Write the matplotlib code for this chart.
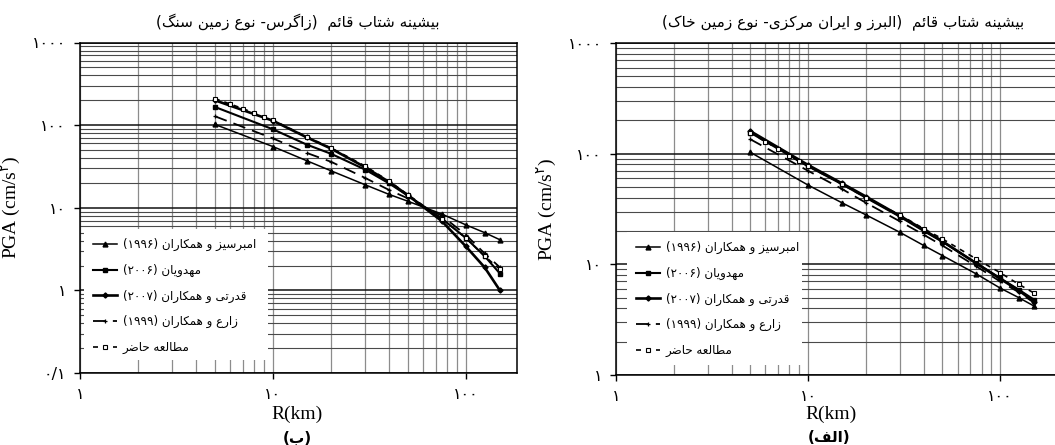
import re
import matplotlib
matplotlib.use('Agg')
import matplotlib.pyplot as plt
from matplotlib.ticker import LogLocator, NullFormatter
from matplotlib.lines import Line2D
from matplotlib.patches import Rectangle

plt.rcParams['font.family'] = ['Liberation Serif', 'DejaVu Sans']

# ---- data ----
dist = [5, 10, 15, 20, 30, 40, 50, 75, 100, 125, 150]
dist_pre = [5, 6, 7, 8, 9, 10, 15, 20, 30, 40, 50, 75, 100, 125, 150]

# (ب) Zagros - rock
amb_b = [102, 55, 37, 28, 19, 14.5, 12, 8.4, 6.2, 5.0, 4.1]
mah_b = [166, 89, 58, 45, 29, 19.7, 14, 7.4, 4.3, 2.6, 1.6]
gho_b = [200, 113, 71, 52, 31, 20.5, 14.2, 6.9, 3.4, 1.9, 1.0]
zar_b = [128, 69, 46, 36, 23, 16.4, 13, 8.0, 4.7, 2.8, 1.9]
pre_b = [210, 180, 158, 140, 126, 115, 72, 53, 32, 21, 14.4, 7.4, 4.3, 2.6, 1.8]

# (الف) Alborz & central Iran - soil
amb_a = [103, 52, 36, 28, 19.5, 14.8, 12, 8.2, 6.1, 5.0, 4.2]
mah_a = [155, 77, 53, 40, 27, 20, 16, 10.3, 7.5, 5.9, 4.8]
gho_a = [160, 79, 54, 41, 27.5, 20.5, 16.2, 10.2, 7.4, 5.8, 4.6]
zar_a = [135, 70, 48, 36, 24.5, 18.5, 14.8, 9.6, 7.0, 5.6, 4.5]
pre_a = [155, 128, 110, 96, 85, 77, 53, 40, 28, 21, 17, 11.2, 8.4, 6.6, 5.5]

labels = ['امبرسیز و همکاران (۱۹۹۶)', 'مهدویان (۲۰۰۶)', 'قدرتی و همکاران (۲۰۰۷)',
          'زارع و همکاران (۱۹۹۹)', 'مطالعه حاضر']
title_b = 'بیشینه شتاب قائم  (زاگرس- نوع زمین سنگ)'
title_a = 'بیشینه شتاب قائم  (البرز و ایران مرکزی- نوع زمین خاک)'
xtick_lab = ['۱', '۱۰', '۱۰۰']
ytick_b = ['۰/۱', '۱', '۱۰', '۱۰۰', '۱۰۰۰']
ytick_a = ['۱', '۱۰', '۱۰۰', '۱۰۰۰']

# ---- minimal persian shaping (no arabic_reshaper available) ----
FORMS = {
    'ا': (0xFE8D, 0xFE8E), 'آ': (0xFE81, 0xFE82), 'د': (0xFEA9, 0xFEAA),
    'ذ': (0xFEAB, 0xFEAC), 'ر': (0xFEAD, 0xFEAE), 'ز': (0xFEAF, 0xFEB0),
    'ژ': (0xFB8A, 0xFB8B), 'و': (0xFEED, 0xFEEE),
    'ب': (0xFE8F, 0xFE90, 0xFE91, 0xFE92), 'پ': (0xFB56, 0xFB57, 0xFB58, 0xFB59),
    'ت': (0xFE95, 0xFE96, 0xFE97, 0xFE98), 'ث': (0xFE99, 0xFE9A, 0xFE9B, 0xFE9C),
    'ج': (0xFE9D, 0xFE9E, 0xFE9F, 0xFEA0), 'چ': (0xFB7A, 0xFB7B, 0xFB7C, 0xFB7D),
    'ح': (0xFEA1, 0xFEA2, 0xFEA3, 0xFEA4), 'خ': (0xFEA5, 0xFEA6, 0xFEA7, 0xFEA8),
    'س': (0xFEB1, 0xFEB2, 0xFEB3, 0xFEB4), 'ش': (0xFEB5, 0xFEB6, 0xFEB7, 0xFEB8),
    'ص': (0xFEB9, 0xFEBA, 0xFEBB, 0xFEBC), 'ض': (0xFEBD, 0xFEBE, 0xFEBF, 0xFEC0),
    'ط': (0xFEC1, 0xFEC2, 0xFEC3, 0xFEC4), 'ظ': (0xFEC5, 0xFEC6, 0xFEC7, 0xFEC8),
    'ع': (0xFEC9, 0xFECA, 0xFECB, 0xFECC), 'غ': (0xFECD, 0xFECE, 0xFECF, 0xFED0),
    'ف': (0xFED1, 0xFED2, 0xFED3, 0xFED4), 'ق': (0xFED5, 0xFED6, 0xFED7, 0xFED8),
    'ک': (0xFB8E, 0xFB8F, 0xFB90, 0xFB91), 'گ': (0xFB92, 0xFB93, 0xFB94, 0xFB95),
    'ل': (0xFEDD, 0xFEDE, 0xFEDF, 0xFEE0), 'م': (0xFEE1, 0xFEE2, 0xFEE3, 0xFEE4),
    'ن': (0xFEE5, 0xFEE6, 0xFEE7, 0xFEE8), 'ه': (0xFEE9, 0xFEEA, 0xFEEB, 0xFEEC),
    'ی': (0xFBFC, 0xFBFD, 0xFBFE, 0xFBFF), 'ئ': (0xFE89, 0xFE8A, 0xFE8B, 0xFE8C),
}


def fa(s):
    out = []
    for i, ch in enumerate(s):
        if ch not in FORMS:
            out.append(ch)
            continue
        f = FORMS[ch]
        prev = s[i - 1] if i > 0 else ''
        nxt = s[i + 1] if i < len(s) - 1 else ''
        jp = prev in FORMS and len(FORMS[prev]) == 4
        jn = len(f) == 4 and nxt in FORMS
        if jp and jn:
            g = f[3]
        elif jp:
            g = f[1]
        elif jn:
            g = f[2]
        else:
            g = f[0]
        out.append(chr(g))
    vis = ''.join(out)[::-1].translate(str.maketrans('()', ')('))
    return re.sub('[۰-۹]+', lambda m: m.group(0)[::-1], vis)


PER = 'DejaVu Sans'
styles = [
    dict(color='k', lw=1.1, marker='^', ms=3.5),
    dict(color='k', lw=1.5, marker='s', ms=3),
    dict(color='k', lw=1.9, marker='D', ms=2.6),
    dict(color='k', lw=1.3, ls=(0, (7, 4)), marker='+', ms=3.5, mew=0.9),
    dict(color='k', lw=1.2, ls=(0, (3, 3)), marker='s', ms=3, mfc='white', mew=0.8),
]


def setup(ax, ymin, ymax, xmax, ylabs):
    ax.set_xscale('log')
    ax.set_yscale('log')
    ax.set_xlim(1, xmax)
    ax.set_ylim(ymin, ymax)
    ax.xaxis.set_minor_locator(LogLocator(base=10, subs=range(2, 10)))
    ax.yaxis.set_minor_locator(LogLocator(base=10, subs=range(2, 10)))
    ax.xaxis.set_minor_formatter(NullFormatter())
    ax.yaxis.set_minor_formatter(NullFormatter())
    ax.set_xticks([1, 10, 100])
    ax.set_xticklabels(xtick_lab, family=PER, fontsize=11.5)
    yt = [ymin * 10 ** i for i in range(len(ylabs))]
    ax.set_yticks(yt)
    ax.set_yticklabels(ylabs, family=PER, fontsize=11.5)
    ax.xaxis.grid(True, which='both', color='#8c8c8c', lw=0.9)
    ax.yaxis.grid(True, which='minor', color='#4a4a4a', lw=0.8)
    ax.yaxis.grid(True, which='major', color='#111111', lw=1.1)
    ax.tick_params(which='major', direction='out', length=4, width=1, pad=6)
    ax.tick_params(which='minor', length=0)
    for sp in ax.spines.values():
        sp.set_linewidth(1.1)
    ax.set_ylabel(r'PGA (cm/s$^{۲}$)', fontsize=14, labelpad=6)


def draw(ax, series, leg_box):
    for (xs, ys), st in zip(series, styles):
        ax.plot(xs, ys, zorder=3, **st)
    ax.add_patch(Rectangle(leg_box[:2], leg_box[2], leg_box[3], transform=ax.transAxes,
                           facecolor='white', edgecolor='none', zorder=2.5))
    handles = [Line2D([], [], **st) for st in styles]
    leg = ax.legend(handles, [fa(t) for t in labels], loc='upper left',
                    bbox_to_anchor=(leg_box[0], leg_box[1] + leg_box[3]),
                    frameon=False, handlelength=2.0, labelspacing=1.05,
                    handletextpad=0.5, borderaxespad=0.35,
                    prop=dict(family=PER, size=8.6))
    leg.set_zorder(5)


fig = plt.figure(figsize=(10.55, 4.45), dpi=100)
W, H = 1055.0, 445.0

ax_b = fig.add_axes([80 / W, 72 / H, 437 / W, 330.5 / H])
setup(ax_b, 0.1, 1000, 184, ytick_b)
draw(ax_b, [(dist, amb_b), (dist, mah_b), (dist, gho_b), (dist, zar_b), (dist_pre, pre_b)],
     (0.009, 0.039, 0.421, 0.396))

ax_a = fig.add_axes([616 / W, 70 / H, 442 / W, 332 / H])
setup(ax_a, 1, 1000, 200, ytick_a)
draw(ax_a, [(dist, amb_a), (dist, mah_a), (dist, gho_a), (dist, zar_a), (dist_pre, pre_a)],
     (0.025, 0.03, 0.396, 0.40))

fig.text(298 / W, 1 - 22 / H, fa(title_b), family=PER, fontsize=11, ha='center', va='center')
fig.text(843 / W, 1 - 22 / H, fa(title_a), family=PER, fontsize=11, ha='center', va='center')
fig.text(297 / W, 1 - 414 / H, 'R(km)', fontsize=14, ha='center', va='center')
fig.text(831 / W, 1 - 414 / H, 'R(km)', fontsize=14, ha='center', va='center')
fig.text(297 / W, 1 - 438 / H, fa('(ب)'), family=PER, fontsize=11, weight='bold', ha='center', va='center')
fig.text(829 / W, 1 - 438 / H, fa('(الف)'), family=PER, fontsize=11, weight='bold', ha='center', va='center')

fig.savefig('out.png', dpi=100)
